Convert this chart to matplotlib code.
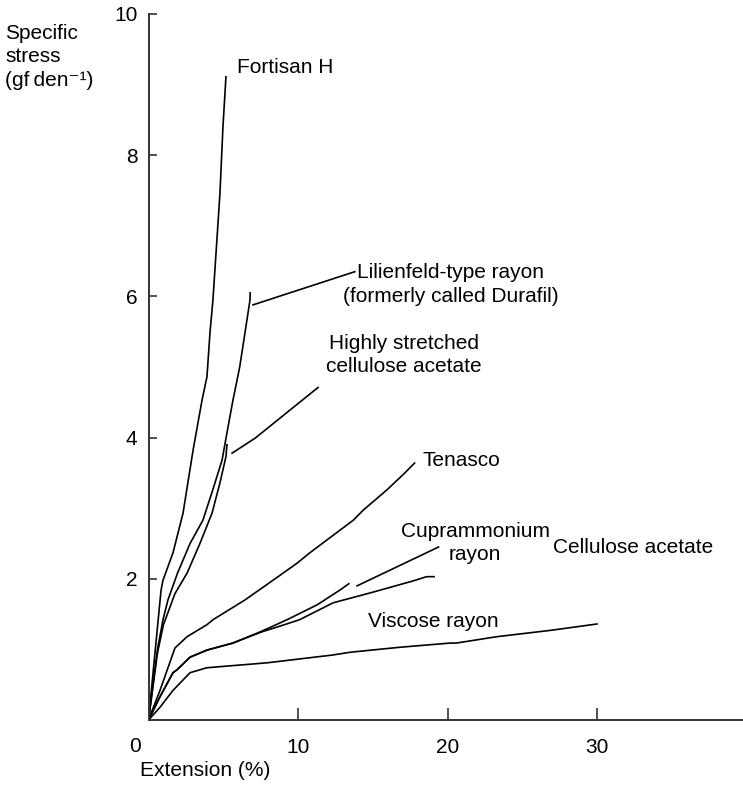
import matplotlib
matplotlib.use("Agg")
import matplotlib.pyplot as plt
import numpy as np

plt.rcParams['font.family'] = ['Liberation Sans', 'DejaVu Sans']

# ----------------- Data -----------------

# Fortisan H
fortisan_x = [0, 0.84, 0.97, 1.64, 2.31, 2.98, 3.58, 3.91, 4.11, 4.31, 4.78, 4.98, 5.18]
fortisan_y = [0, 1.84, 1.98, 2.37, 2.93, 3.82, 4.53, 4.86, 5.48, 5.95, 7.46, 8.40, 9.11]

# Lilienfeld-type rayon
lilien_x = [0, 0.6, 0.97, 1.3, 1.94, 2.78, 3.64, 4.3, 4.92, 5.25, 5.65, 6.1, 6.45, 6.79, 6.8]
lilien_y = [0, 1.0, 1.42, 1.7, 2.08, 2.5, 2.83, 3.26, 3.68, 4.07, 4.53, 5.0, 5.48, 5.95, 6.05]

# Highly stretched cellulose acetate
hsacet_x = [0, 0.6, 1.0, 1.77, 2.58, 3.44, 4.25, 4.78, 5.18, 5.22, 5.25]
hsacet_y = [0, 0.95, 1.35, 1.79, 2.08, 2.5, 2.93, 3.36, 3.73, 3.83, 3.9]

# Tenasco
tenasco_x = [0, 0.77, 1.77, 2.58, 3.91, 4.31, 6.45, 8.8, 9.93, 10.8, 13.7, 14.35, 15.95, 17.15, 17.8]
tenasco_y = [0, 0.42, 1.02, 1.18, 1.35, 1.42, 1.70, 2.05, 2.22, 2.37, 2.83, 2.97, 3.26, 3.50, 3.64]

# Cuprammonium rayon
cupra_x = [0, 0.77, 1.64, 1.9, 2.78, 3.91, 5.65, 6.12, 7.6, 9.26, 11.27, 12.8, 13.4]
cupra_y = [0, 0.33, 0.67, 0.71, 0.89, 0.99, 1.09, 1.13, 1.26, 1.42, 1.63, 1.84, 1.93]

# Viscose rayon
viscose_x = [0, 0.77, 1.64, 1.9, 2.78, 3.91, 5.65, 6.12, 7.6, 8.8, 10.1, 12.35, 15.0, 17.7, 18.6, 19.1]
viscose_y = [0, 0.33, 0.67, 0.71, 0.89, 0.99, 1.09, 1.13, 1.25, 1.33, 1.42, 1.66, 1.81, 1.97, 2.03, 2.03]

# Cellulose acetate
acetate_x = [0, 0.77, 1.64, 2.78, 3.9, 7.93, 12.3, 13.5, 16.8, 20.2, 20.6, 23.3, 26.9, 30.0]
acetate_y = [0, 0.18, 0.42, 0.67, 0.74, 0.81, 0.92, 0.96, 1.03, 1.09, 1.09, 1.18, 1.27, 1.36]

curves = [(fortisan_x, fortisan_y), (lilien_x, lilien_y), (hsacet_x, hsacet_y),
          (tenasco_x, tenasco_y), (cupra_x, cupra_y), (viscose_x, viscose_y),
          (acetate_x, acetate_y)]

# leader lines from curve ends to their labels
leaders = [
    ([6.99, 13.8], [5.88, 6.35]),
    ([5.59, 7.12, 11.34], [3.78, 3.99, 4.71]),
    ([13.95, 19.4], [1.90, 2.45]),
]

# labels: text, x, y, ha
labels = [
    ("Fortisan H", 5.92, 9.24, 'left'),
    ("Lilienfeld-type rayon\n(formerly called Durafil)", 20.23, 6.17, 'center'),
    ("Highly stretched\ncellulose acetate", 17.09, 5.17, 'center'),
    ("Tenasco", 18.36, 3.68, 'left'),
    ("Cuprammonium\nrayon", 21.84, 2.51, 'center'),
    ("Viscose rayon", 14.68, 1.40, 'left'),
    ("Cellulose acetate", 27.06, 2.45, 'left'),
]

x_ticks = [10, 20, 30]
y_ticks = [2, 4, 6, 8, 10]

# ----------------- Figure -----------------

W, H = 743, 785
fig = plt.figure(figsize=(W / 100, H / 100), dpi=100)
ax = fig.add_axes([148.5 / W, (H - 720) / H, (W - 148.5) / W, 706 / H])
ax.set_xlim(0, (W - 148.5) / 14.95)
ax.set_ylim(0, 10)

for xs, ys in curves:
    ax.plot(xs, ys, color='black', lw=1.2, solid_joinstyle='round')
for xs, ys in leaders:
    ax.plot(xs, ys, color='black', lw=1.2)

for txt, x, y, ha in labels:
    ax.text(x, y, txt, ha=ha, va='center', multialignment='center',
            fontsize=15, linespacing=1.3)

for side in ['top', 'right']:
    ax.spines[side].set_visible(False)
for side in ['left', 'bottom']:
    ax.spines[side].set_color('#333333')
    ax.spines[side].set_linewidth(1.4)

ax.set_xticks(x_ticks)
ax.set_yticks(y_ticks)
ax.tick_params(axis='x', direction='in', length=8.5, width=1.2, pad=13,
               labelsize=15, color='#333333')
ax.tick_params(axis='y', direction='in', length=6, width=1.2, pad=8,
               labelsize=15, color='#333333')

# origin label sits left of the corner
ax.annotate("0", xy=(0, 0), xytext=(-10, -19), textcoords='offset points',
            ha='center', va='center', fontsize=15, annotation_clip=False)

fig.text(140 / W, 1 - 770 / H, "Extension (%)", ha='left', va='center', fontsize=15)
fig.text(5 / W, 1 - 57 / H, "Specific\nstress\n(gf\u2009den\u207b\u00b9)", ha='left',
         va='center', fontsize=15, linespacing=1.27)

fig.savefig("out.png", dpi=100)
